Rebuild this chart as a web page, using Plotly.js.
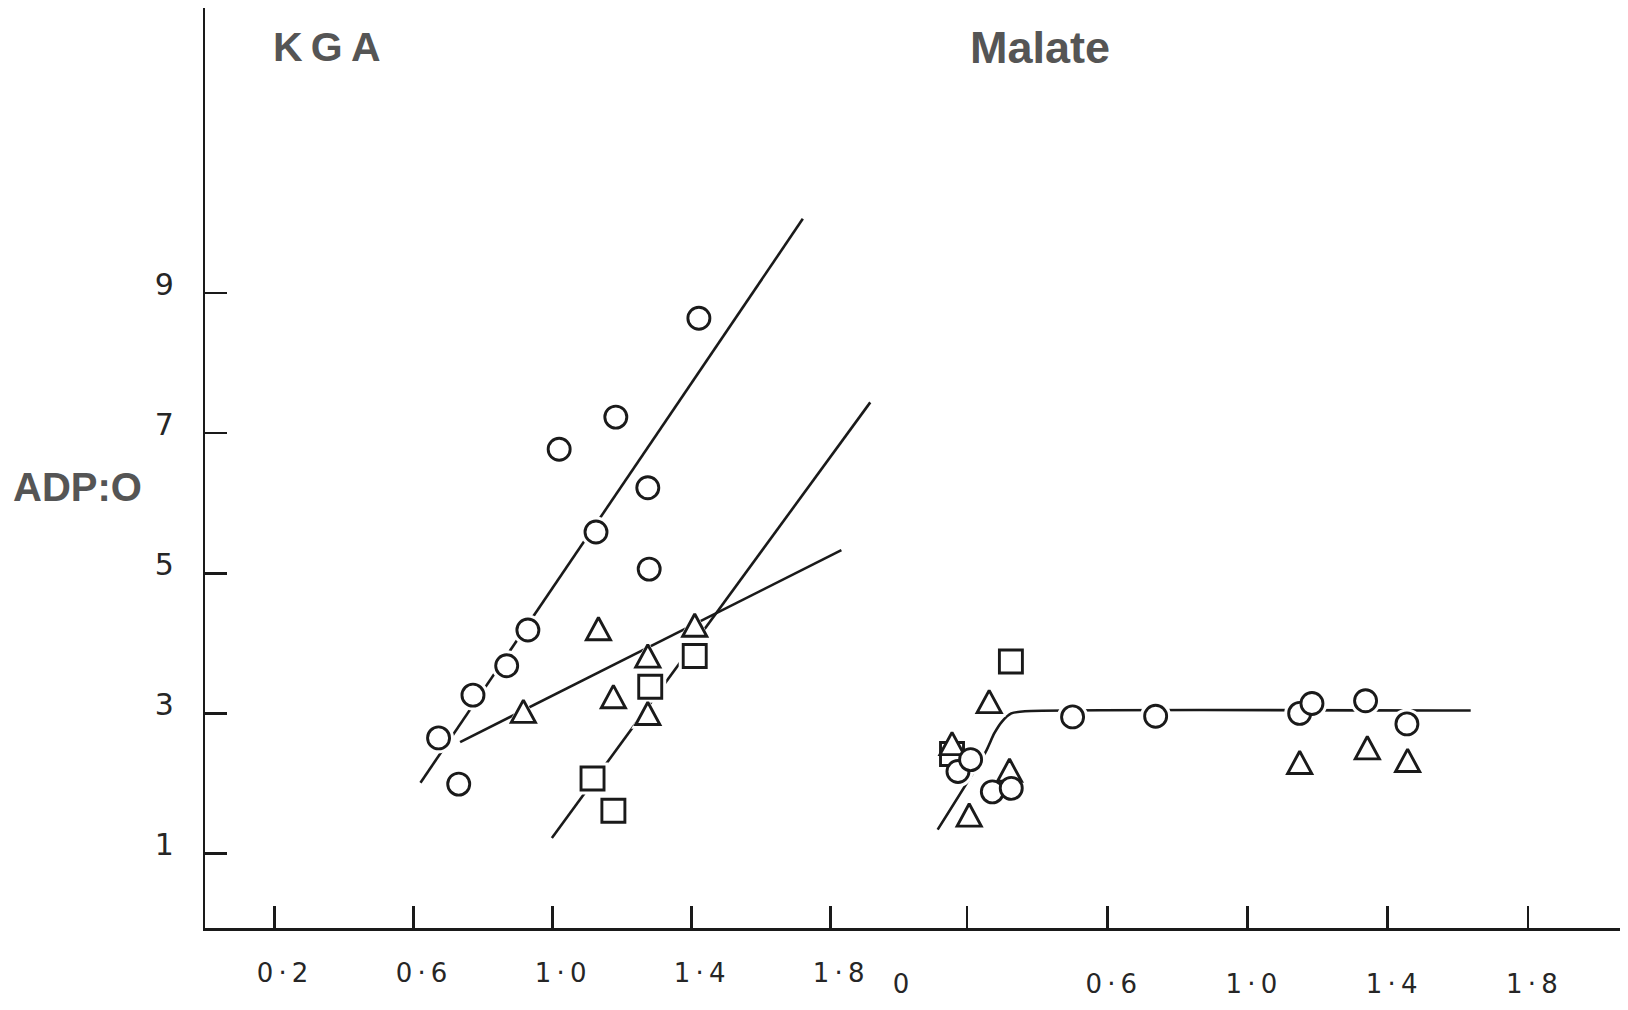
<!DOCTYPE html>
<html>
<head>
<meta charset="utf-8">
<script src="https://cdn.plot.ly/plotly-3.0.1.min.js"></script>
<style>html,body{margin:0;padding:0;background:#fff;}#chart{width:1628px;height:1010px;}</style>
</head>
<body>
<div id="chart"></div>
<script>
// ---- KGA panel ----
const kgaCircleX = [0.672, 0.730, 0.771, 0.868, 0.929, 1.019, 1.125, 1.182, 1.274, 1.278, 1.421];
const kgaCircleY = [2.65, 1.99, 3.26, 3.68, 4.19, 6.77, 5.59, 7.23, 6.22, 5.06, 8.64];
const kgaTriX = [0.916, 1.132, 1.175, 1.274, 1.274, 1.409];
const kgaTriY = [3.03, 4.21, 3.24, 3.82, 3.00, 4.26];
const kgaSqX = [1.115, 1.175, 1.281, 1.409];
const kgaSqY = [2.07, 1.61, 3.38, 3.82];
const kgaCircleFitX = [0.620, 1.720];
const kgaCircleFitY = [2.01, 10.06];
const kgaTriFitX = [0.734, 1.831];
const kgaTriFitY = [2.59, 5.33];
const kgaSqFitX = [0.998, 1.914];
const kgaSqFitY = [1.22, 7.44];

// ---- Malate panel ----
const malCircleX = [0.174, 0.210, 0.272, 0.326, 0.501, 0.738, 1.149, 1.184, 1.337, 1.455];
const malCircleY = [2.17, 2.34, 1.88, 1.93, 2.95, 2.96, 3.00, 3.14, 3.18, 2.85];
const malTriX = [0.157, 0.263, 0.321, 0.206, 1.149, 1.342, 1.457];
const malTriY = [2.57, 3.17, 2.19, 1.55, 2.30, 2.51, 2.33];
const malSqX = [0.157, 0.325];
const malSqY = [2.42, 3.74];
const malFitX = [0.116, 0.253, 0.277, 0.299, 0.326, 0.365, 1.637];
const malFitY = [1.34, 2.45, 2.71, 2.88, 3.00, 3.03, 3.04];

// ---- tick labels ----
const yTickVals = [1, 3, 5, 7, 9];
const yTickText = ['1', '3', '5', '7', '9'];
const kgaTickVals = [0.2, 0.6, 1.0, 1.4, 1.8];
const kgaTickText = ['0\u2009·\u20092', '0\u2009·\u20096', '1\u2009·\u20090', '1\u2009·\u20094', '1\u2009·\u20098'];
const malTickVals = [0, 0.2, 0.6, 1.0, 1.4, 1.8];
const malTickText = ['0', '', '0\u2009·\u20096', '1\u2009·\u20090', '1\u2009·\u20094', '1\u2009·\u20098'];

const INK = '#1a1a1a';
const SIZES = {circle: 22, 'triangle-up': 24, square: 23};

function fitLine(x, y, xa, shape) {
  return {x: x, y: y, xaxis: xa, yaxis: 'y', mode: 'lines', hoverinfo: 'skip',
    line: {color: INK, width: 2.6, shape: shape || 'linear', smoothing: 0.6}};
}
function halo(x, y, xa, sym) {
  return {x: x, y: y, xaxis: xa, yaxis: 'y', mode: 'markers', hoverinfo: 'skip',
    marker: {symbol: sym, size: SIZES[sym] + 9, color: '#ffffff', line: {width: 0}}};
}
function pts(x, y, xa, sym) {
  return {x: x, y: y, xaxis: xa, yaxis: 'y', mode: 'markers', hoverinfo: 'skip',
    marker: {symbol: sym, size: SIZES[sym], color: '#ffffff', line: {color: INK, width: 2.9}}};
}

const data = [
  fitLine(kgaCircleFitX, kgaCircleFitY, 'x'),
  fitLine(kgaTriFitX, kgaTriFitY, 'x'),
  fitLine(kgaSqFitX, kgaSqFitY, 'x'),
  fitLine(malFitX, malFitY, 'x2', 'spline'),
  halo(kgaSqX, kgaSqY, 'x', 'square'),
  halo(kgaTriX, kgaTriY, 'x', 'triangle-up'),
  halo(kgaCircleX, kgaCircleY, 'x', 'circle'),
  halo(malSqX, malSqY, 'x2', 'square'),
  halo(malTriX, malTriY, 'x2', 'triangle-up'),
  halo(malCircleX, malCircleY, 'x2', 'circle'),
  pts(kgaSqX, kgaSqY, 'x', 'square'),
  pts(kgaTriX, kgaTriY, 'x', 'triangle-up'),
  pts(kgaCircleX, kgaCircleY, 'x', 'circle'),
  pts(malSqX, malSqY, 'x2', 'square'),
  pts(malTriX, malTriY, 'x2', 'triangle-up'),
  pts(malCircleX, malCircleY, 'x2', 'circle')
];

const tickFontX = {family: 'DejaVu Sans, Liberation Sans, sans-serif', size: 26, color: '#262626'};
const tickFontY = {family: 'DejaVu Sans, Liberation Sans, sans-serif', size: 30, color: '#262626'};
const titleFont = {family: 'Liberation Sans, Arial, sans-serif', color: '#555555', weight: 'bold'};

const layout = {
  width: 1628, height: 1010,
  margin: {l: 0, r: 0, t: 0, b: 0, pad: 0},
  paper_bgcolor: '#ffffff', plot_bgcolor: '#ffffff',
  showlegend: false,
  xaxis: {
    domain: [205 / 1628, 897 / 1628], range: [0, 1.991], anchor: 'y',
    showgrid: false, zeroline: false, showline: true, linecolor: INK, linewidth: 3,
    ticks: 'inside', ticklen: 22, tickwidth: 2.5, tickcolor: INK,
    tickvals: kgaTickVals, ticktext: kgaTickText, tickfont: tickFontX,
    ticklabelstandoff: 20, ticklabelshift: 8
  },
  xaxis2: {
    domain: [897 / 1628, 1620 / 1628], range: [0, 2.063], anchor: 'y2',
    showgrid: false, zeroline: false, showline: true, linecolor: INK, linewidth: 3,
    ticks: 'inside', ticklen: 22, tickwidth: 2.5, tickcolor: INK,
    tickvals: malTickVals, ticktext: malTickText, tickfont: tickFontX,
    ticklabelstandoff: 31, ticklabelshift: 4
  },
  yaxis: {
    domain: [82 / 1010, 1002 / 1010], range: [-0.064, 13.07], anchor: 'x',
    showgrid: false, zeroline: false, showline: true, linecolor: INK, linewidth: 2.2,
    ticks: 'inside', ticklen: 22, tickwidth: 2.5, tickcolor: INK,
    tickvals: yTickVals, ticktext: yTickText, tickfont: tickFontY,
    ticklabelstandoff: 23, ticklabelshift: -9
  },
  yaxis2: {
    domain: [82 / 1010, 1002 / 1010], matches: 'y', anchor: 'x2',
    showgrid: false, zeroline: false, showline: true, linecolor: INK, linewidth: 2.2,
    ticks: '', showticklabels: false
  },
  annotations: [
    {text: 'K\u2009G\u2009A', xref: 'paper', yref: 'paper', x: 327 / 1628, y: 1 - 47 / 1010,
      xanchor: 'center', yanchor: 'middle', showarrow: false, font: Object.assign({size: 41}, titleFont)},
    {text: 'Malate', xref: 'paper', yref: 'paper', x: 1040 / 1628, y: 1 - 47 / 1010,
      xanchor: 'center', yanchor: 'middle', showarrow: false, font: Object.assign({size: 45}, titleFont)},
    {text: 'ADP:O', xref: 'paper', yref: 'paper', x: 77 / 1628, y: 1 - 487 / 1010,
      xanchor: 'center', yanchor: 'middle', showarrow: false, font: Object.assign({size: 40}, titleFont)}
  ]
};

Plotly.newPlot('chart', data, layout, {staticPlot: true, displayModeBar: false}).then(function () {
  // make triangle markers closer to equilateral (as in the printed figure)
  const re = /^M-([\d.]+),([\d.]+)H([\d.]+)L0,-([\d.]+)Z$/;
  document.querySelectorAll('#chart path.point').forEach(function (p) {
    const d = p.getAttribute('d') || '';
    const m = d.match(re);
    if (m) {
      const w = parseFloat(m[1]) * 0.87;
      const h = 1.85 * w;
      p.setAttribute('d', 'M-' + w.toFixed(2) + ',' + (h / 2).toFixed(2) + 'H' + w.toFixed(2) + 'L0,-' + (h / 2).toFixed(2) + 'Z');
    }
  });
});
</script>
</body>
</html>
